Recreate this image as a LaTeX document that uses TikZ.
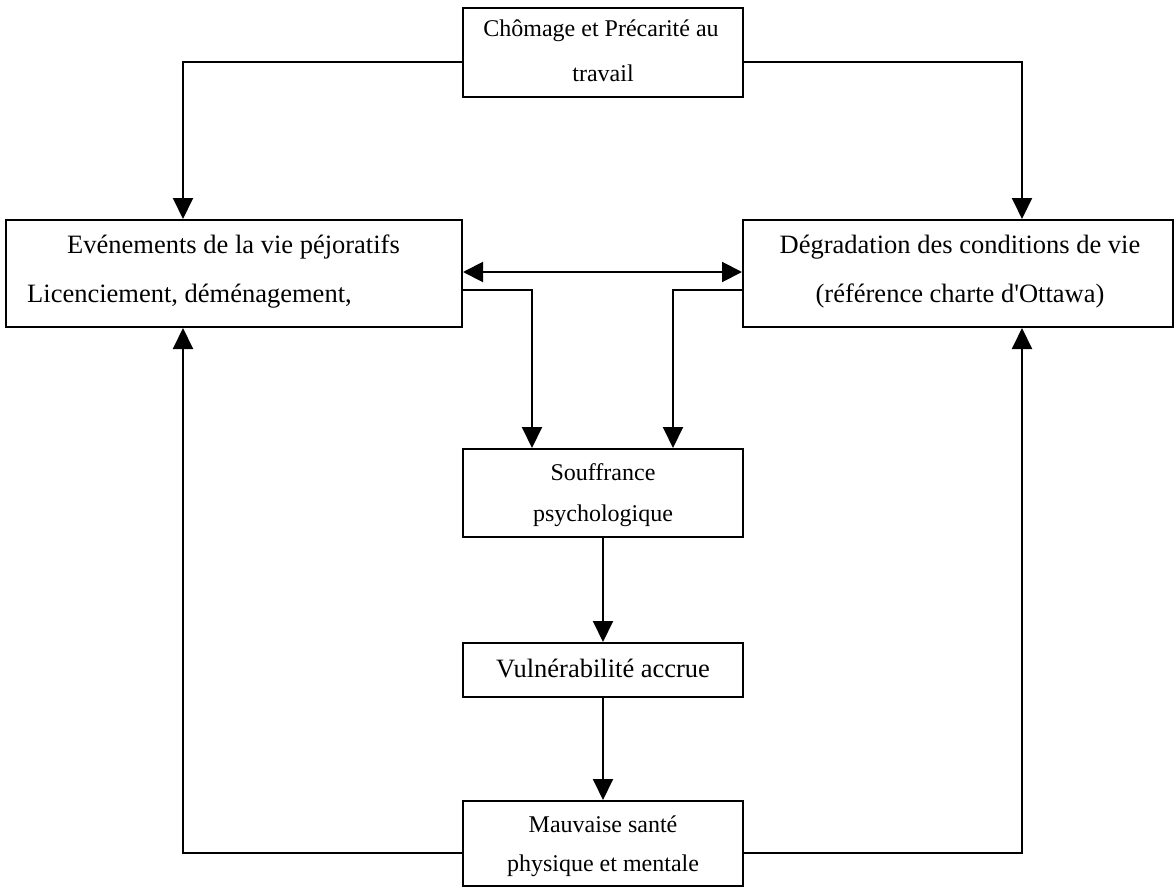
\documentclass[tikz,border=0pt]{standalone}
\usepackage{fontspec}
\setmainfont{Liberation Serif}[Ligatures=TeXOff]
\usetikzlibrary{arrows.meta}
\tikzset{
  box/.style={draw=black, line width=2pt, rectangle, inner sep=0pt},
  bigtxt/.style={inner sep=0pt, anchor=base, font=\fontsize{26.5}{30}\selectfont},
  smalltxt/.style={inner sep=0pt, anchor=base, font=\fontsize{24}{28}\selectfont},
  conn/.style={line width=2pt, -{Triangle[length=21pt,width=20pt]}},
  dconn/.style={line width=2pt, {Triangle[length=20pt,width=20pt]}-{Triangle[length=20pt,width=20pt]}}
}
\begin{document}
\begin{tikzpicture}[x=1pt,y=-1pt]
\useasboundingbox (0,0) rectangle (1175,888);
% boxes
\node[box, minimum width=280pt, minimum height=89pt] (top) at (603,52.5) {};
\node[box, minimum width=456pt, minimum height=107pt] (left) at (234,273.5) {};
\node[box, minimum width=430pt, minimum height=107pt] (right) at (958,273.5) {};
\node[box, minimum width=280pt, minimum height=88pt] (souf) at (603,493) {};
\node[box, minimum width=280pt, minimum height=54pt] (vuln) at (603,670) {};
\node[box, minimum width=280pt, minimum height=85pt] (mauv) at (603,843.5) {};
% texts
\node[smalltxt] (top1) at (601,37) {Chômage et Précarité au};
\node[smalltxt] (top2) at (603,82) {travail};
\node[bigtxt] (left1) at (233.5,253) {Evénements de la vie péjoratifs};
\node[bigtxt, anchor=base west] (left2) at (27,302) {Licenciement, déménagement,};
\node[bigtxt] (right1) at (960,253) {Dégradation des conditions de vie};
\node[bigtxt] (right2) at (960,302) {(référence charte d'Ottawa)};
\node[smalltxt] (souf1) at (603,480) {Souffrance};
\node[smalltxt] (souf2) at (603,521) {psychologique};
\node[bigtxt] (vuln1) at (603,677) {Vulnérabilité accrue};
\node[smalltxt] (mauv1) at (603,832) {Mauvaise santé};
\node[smalltxt] (mauv2) at (603,871) {physique et mentale};
% connectors
\draw[conn] ([yshift=-9.5pt]top.west) -| ([xshift=-51pt]left.north);
\draw[conn] ([yshift=-9.5pt]top.east) -| ([xshift=64pt]right.north);
\draw[dconn] ([yshift=1.5pt]left.east) -- ([yshift=1.5pt]right.west);
\draw[conn] ([yshift=-16pt]left.east) -| ([xshift=-71pt]souf.north);
\draw[conn] ([yshift=-16pt]right.west) -| ([xshift=70pt]souf.north);
\draw[conn] (souf.south) -- (vuln.north);
\draw[conn] (vuln.south) -- (mauv.north);
\draw[conn] ([yshift=-9.5pt]mauv.west) -| ([xshift=-51pt]left.south);
\draw[conn] ([yshift=-9.5pt]mauv.east) -| ([xshift=64pt]right.south);
\end{tikzpicture}
\end{document}
